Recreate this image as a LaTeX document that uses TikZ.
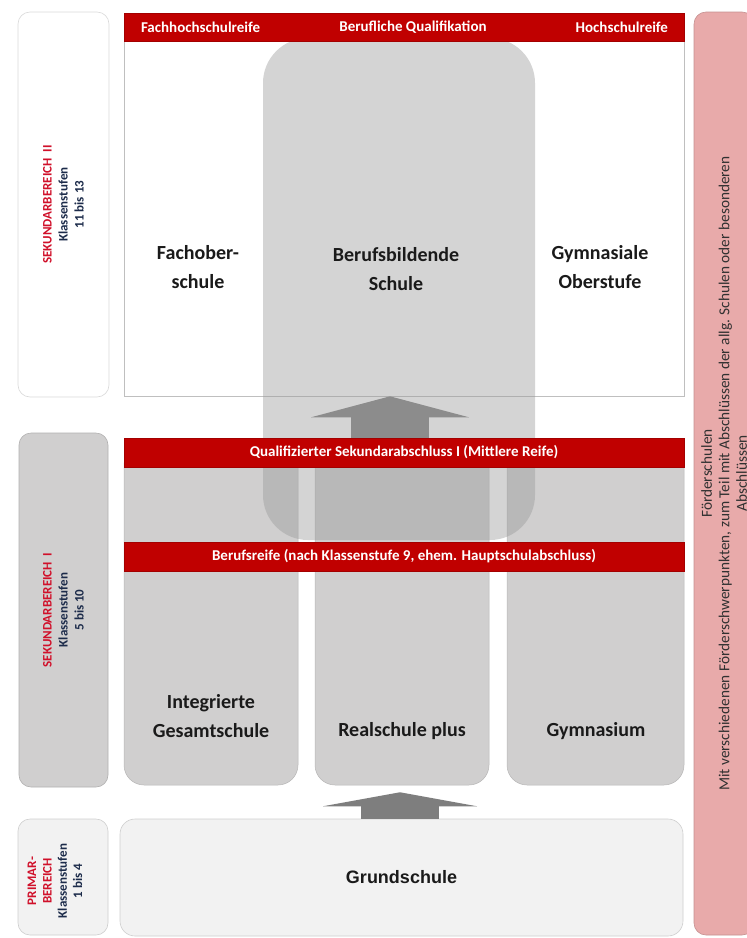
\documentclass[tikz,border=0pt]{standalone}
\usepackage{fontspec}
\setmainfont{Carlito}
\newfontfamily\arialfont{Liberation Sans}
\usetikzlibrary{positioning}
\usetikzlibrary{arrows.meta}

\definecolor{barred}{HTML}{C00000}
\definecolor{colgray}{HTML}{D0CFCF}
\definecolor{paleg}{HTML}{F2F2F2}
\definecolor{rosa}{HTML}{E8AAAA}
\definecolor{bbsgray}{HTML}{999999}
\definecolor{labelblue}{HTML}{1C2B4A}
\definecolor{labelred}{HTML}{D0102A}
\definecolor{schooltext}{HTML}{1A1A1A}
\definecolor{arrgray}{HTML}{8C8C8C}

\begin{document}
\begin{tikzpicture}[x=1pt, y=-1pt,
	area/.style={draw=#1!85!black, fill=#1, line width=0.6pt, rounded corners=12pt,
		rotate=90, align=center, inner sep=0pt, text=labelblue,
		font=\fontsize{13}{16}\selectfont\bfseries},
	arealabel/.style={rotate=90, align=center, inner sep=0pt, text=labelblue,
		font=\fontsize{13}{15.3}\selectfont\bfseries},
	column/.style={draw=colgray!88!black, fill=colgray, line width=0.5pt,
		rounded corners=20pt, minimum width=174pt, minimum height=340pt},
	redbar/.style={draw=barred!85!black, fill=barred, text=white, line width=0.4pt,
		minimum width=560pt, minimum height=29pt, inner sep=0pt,
		font=\fontsize{15}{17}\selectfont\bfseries},
	barlabel/.style={text=white, inner sep=0pt, font=\fontsize{15}{17}\selectfont\bfseries},
	school/.style={align=center, text=schooltext, font=\fontsize{20}{29.5}\selectfont\bfseries},
	blockarr/.style={line width=78pt, draw=#1},
	blockarr/.default=arrgray]

	\useasboundingbox (0,0) rectangle (747,938);

	% Bereiche links
	\node [area=white, minimum width=385pt, minimum height=91pt] (bereich2) at (63.5,204.5)
		{\textcolor{labelred}{SEKUNDARBEREICH\ \ II}\\Klassenstufen\\11 bis 13};
	\node [area=colgray, minimum width=354pt, minimum height=89pt] (bereich1) at (63.5,610)
		{\textcolor{labelred}{SEKUNDARBEREICH\ \ I}\\Klassenstufen\\5 bis 10};
	\node [area=paleg, minimum width=116pt, minimum height=90pt] (primar) at (63,877) {};
	\node [arealabel] (primartext) at (55,881)
		{\textcolor{labelred}{PRIMAR-}\\\textcolor{labelred}{BEREICH}\\Klassenstufen\\1 bis 4};

	% Foerderschulen rechts
	\node [area=rosa, minimum width=923pt, minimum height=60pt, text=schooltext!90,
		font=\fontsize{15.3}{17.5}\selectfont] (foerder) at (724,473.5)
		{F\"orderschulen\\Mit verschiedenen F\"orderschwerpunkten, zum Teil mit Abschl\"ussen der allg. Schulen oder besonderen\\Abschl\"ussen};

	% Sekundarbereich II
	\node [draw=black!25, fill=white, line width=0.6pt, minimum width=560pt,
		minimum height=383pt, inner sep=0pt] (sek2rahmen) at (404,204.5) {};

	% Sekundarbereich I
	\node [column] (igs) at (211,615) {};
	\node [column] (realplus) at (402,615) {};
	\node [column, minimum width=177pt] (gym) at (595.5,615) {};

	\node [fill=bbsgray, fill opacity=0.42, rounded corners=45pt, minimum width=272pt,
		minimum height=502pt, inner sep=0pt] (bbs) at (399,289) {};

	% Abschluesse
	\node [redbar, minimum height=28pt] (abschluss2) at (404,27) {};
	\node [barlabel, right=17pt of abschluss2.west] (fhr) {Fachhochschulreife};
	\node [barlabel] (bq) at ([xshift=9pt]abschluss2.center) {Berufliche Qualifikation};
	\node [barlabel, left=16pt of abschluss2.east] (hr) {Hochschulreife};
	\node [redbar] (mittlere) at (404,452.5) {Qualifizierter Sekundarabschluss I (Mittlere Reife)};
	\node [redbar] (berufsreife) at (404,556.5) {Berufsreife (nach Klassenstufe 9, ehem. Hauptschulabschluss)};

	\draw [blockarr, -{Triangle[width=158pt, length=21pt, line width=0pt]}]
		([xshift=-14pt]mittlere.north) -- ([xshift=-14pt]sek2rahmen.south);

	\node [school] (fos) at (198,267) {Fachober-\\schule};
	\node [school] (bbstext) at (396,269) {Berufsbildende\\Schule};
	\node [school] (gymob) at (600,267) {Gymnasiale\\Oberstufe};
	\node [school] (igstext) at (211,716) {Integrierte\\Gesamtschule};
	\node [school] (rstext) at (402,731) {Realschule plus};
	\node [school] (gymtext) at (596,731) {Gymnasium};

	% Primarbereich
	\node [draw=paleg!85!black, fill=paleg, line width=0.6pt, rounded corners=15pt,
		minimum width=563pt, minimum height=117pt, text=schooltext,
		font=\arialfont\fontsize{18}{20}\selectfont\bfseries] (grund) at (401.5,877.5) {Grundschule};

	\path (grund.north |- realplus.south) coordinate (spitze);
	\draw [blockarr=arrgray!90!black, -{Triangle[width=154pt, length=14pt, line width=0pt]}]
		([xshift=-1.5pt]grund.north) -- ([xshift=-1.5pt, yshift=-7pt]spitze);
\end{tikzpicture}
\end{document}
